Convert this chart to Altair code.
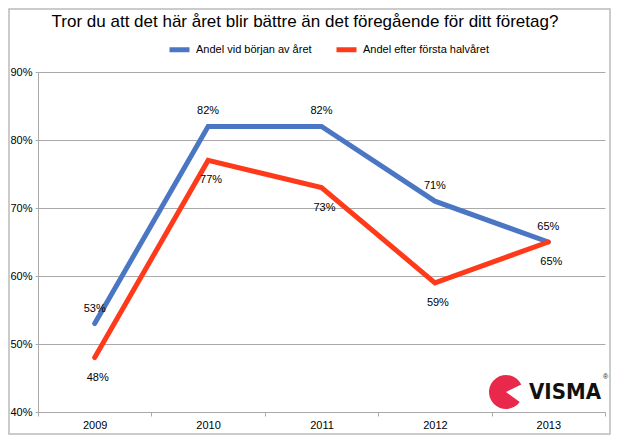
import altair as alt
import pandas as pd

years = ["2009", "2010", "2011", "2012", "2013"]
start_of_year = [53, 82, 82, 71, 65]
after_half_year = [48, 77, 73, 59, 65]
series_names = ["Andel vid början av året", "Andel efter första halvåret"]
colors = ["#4A76C4", "#FF3A1A"]
title_text = "Tror du att det här året blir bättre än det föregående för ditt företag?"

rows = []
for y, a, b in zip(years, start_of_year, after_half_year):
    rows.append({"year": y, "value": a / 100, "series": series_names[0]})
    rows.append({"year": y, "value": b / 100, "series": series_names[1]})
df = pd.DataFrame(rows)

font = "Liberation Sans"

x = alt.X("year:N", title=None, sort=years,
          scale=alt.Scale(paddingInner=0, paddingOuter=0),
          axis=alt.Axis(labelAngle=0, labelFontSize=11, labelPadding=3,
                        domainColor="#AAAAAA", tickColor="#AAAAAA",
                        tickBand="extent", tickSize=4, labelColor="#000000"))
y = alt.Y("value:Q", title=None,
          scale=alt.Scale(domain=[0.4, 0.9]),
          axis=alt.Axis(format=".0%", values=[0.4, 0.5, 0.6, 0.7, 0.8, 0.9],
                        labelFontSize=11, labelPadding=3, tickSize=3,
                        domainColor="#AAAAAA", tickColor="#AAAAAA",
                        gridColor="#AAAAAA", labelColor="#000000"))
color = alt.Color("series:N", sort=series_names,
                  scale=alt.Scale(domain=series_names, range=colors),
                  legend=alt.Legend(title=None, orient="none", direction="horizontal",
                                    legendX=129, legendY=-35,
                                    symbolType="stroke", symbolStrokeWidth=5,
                                    symbolSize=400, labelFontSize=11,
                                    columnPadding=14, labelFont=font))

base = alt.Chart(df)

lines = base.mark_line(strokeWidth=5, strokeJoin="miter", strokeCap="round").encode(
    x=x, y=y, color=color)

labels_top = base.transform_filter(alt.datum.series == series_names[0]).mark_text(
    dy=-15, fontSize=11, font=font, color="black"
).encode(x=x, y=y, text=alt.Text("value:Q", format=".0%"))

labels_bottom = base.transform_filter(alt.datum.series == series_names[1]).mark_text(
    dy=20, dx=3, fontSize=11, font=font, color="black"
).encode(x=x, y=y, text=alt.Text("value:Q", format=".0%"))

title = alt.Chart(pd.DataFrame({"t": [title_text]})).mark_text(
    font=font, fontSize=17, color="#000000", align="center", baseline="middle"
).encode(text="t:N", x=alt.value(267), y=alt.value(-50))

# VISMA logo
logo_arc = alt.Chart(pd.DataFrame({"a": [0]})).mark_arc(
    color="#E8294C", radius=17, theta=2.2, theta2=7.4
).encode(x=alt.value(468), y=alt.value(320))
logo_text = alt.Chart(pd.DataFrame({"t": ["VISMA"]})).mark_text(
    font="DejaVu Sans Condensed", fontWeight="bold", fontSize=22, align="left",
    baseline="middle", color="#111111"
).encode(text="t:N", x=alt.value(491), y=alt.value(320))
logo_reg = alt.Chart(pd.DataFrame({"t": ["®"]})).mark_text(
    fontSize=7, align="left", color="#111111", font=font
).encode(text="t:N", x=alt.value(565), y=alt.value(305))

# outer frame of the picture
frame = alt.Chart(pd.DataFrame({"a": [0]})).mark_rect(
    fill=None, stroke="#BBBBBB", strokeWidth=1.5
).encode(x=alt.value(-29), x2=alt.value(572), y=alt.value(-63), y2=alt.value(362))

chart = alt.layer(lines, labels_top, labels_bottom, title, logo_arc, logo_text, logo_reg, frame).properties(
    width=567,
    height=340,
    autosize=alt.AutoSizeParams(type="none"),
    padding={"left": 30, "top": 64, "right": 6, "bottom": 24},
).configure_view(stroke=None).configure_axis(labelFont=font)

chart.save("out.html", embed_options={"renderer": "svg", "actions": False})
